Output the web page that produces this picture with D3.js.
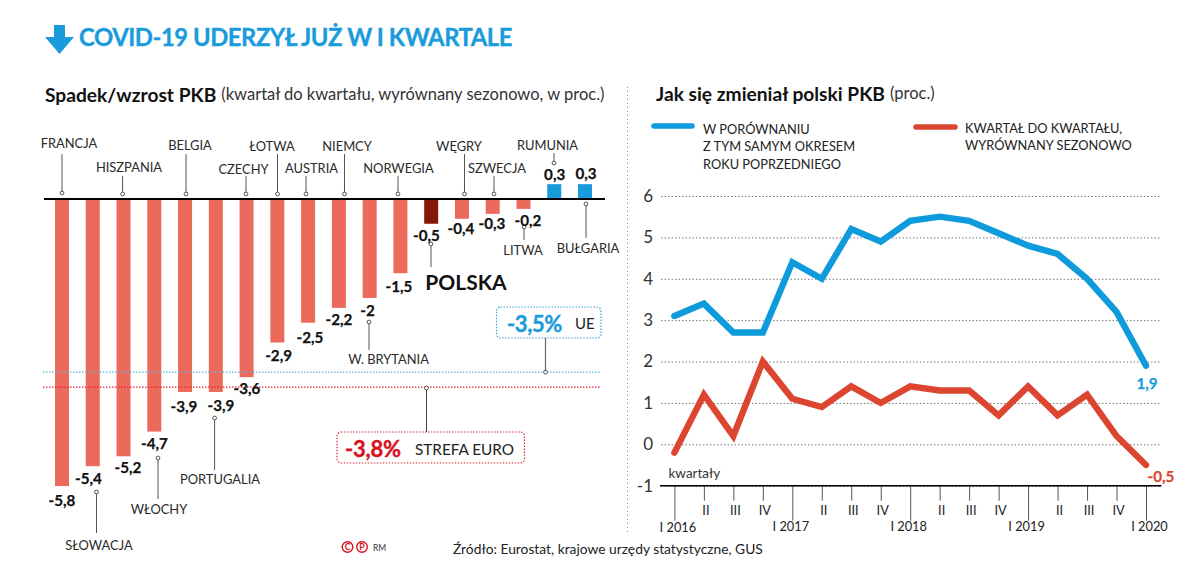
<!DOCTYPE html>
<html lang="pl"><head><meta charset="utf-8">
<script src="https://cdn.jsdelivr.net/npm/d3@7"></script>
<style>
html,body{margin:0;padding:0;background:#fff;overflow:hidden}
text{font-family:Lato,"Open Sans",sans-serif;fill:#222}
</style></head><body><svg id="c" width="1200" height="577"></svg>
<script>
// ---- data
const countries=["FRANCJA","SŁOWACJA","HISZPANIA","WŁOCHY","BELGIA","PORTUGALIA","CZECHY","ŁOTWA","AUSTRIA","NIEMCY","W. BRYTANIA","NORWEGIA","POLSKA","WĘGRY","SZWECJA","LITWA","RUMUNIA","BUŁGARIA"];
const gdpChange=[-5.8,-5.4,-5.2,-4.7,-3.9,-3.9,-3.6,-2.9,-2.5,-2.2,-2,-1.5,-0.5,-0.4,-0.3,-0.2,0.3,0.3];
const euAverage=-3.5, euroAverage=-3.8;
const quarters=["I 2016","II","III","IV","I 2017","II ","III ","IV ","I 2018","II  ","III  ","IV  ","I 2019","II   ","III   ","IV   ","I 2020"];
const yoy=[3.1,3.4,2.7,2.7,4.4,4.0,5.2,4.9,5.4,5.5,5.4,5.1,4.8,4.6,4.0,3.2,1.9];
const qoq=[-0.2,1.2,0.2,2.0,1.1,0.9,1.4,1.0,1.4,1.3,1.3,0.7,1.4,0.7,1.2,0.2,-0.5];
const yTicks=[-1,0,1,2,3,4,5,6];
// ---- layout of annotations (text centre x, text y, leader x, leader y1 with dot, leader y2)
const labelLayout=[[69,143,62,193,154],[99,545,96.5,492,533],[129,167,122.6,194,176],[159,509,158,458,499],[190,145,186,194,154],[220,479,214.6,418,470],[243.5,169,246,194,176],[272,146,277.5,194,154],[311.5,168,306,194,176],[347,146,344.5,194,154],[388.6,359,369,322,350],[398.5,168,398,194,176],[466,281,431,244,267],[459,146,464.5,194,154],[497,168,494,194,176],[523,250,524,227,240],[547.5,145,554,163,153],[588,248,586,204,238]];
const valueLayout=[[62,500],[88.5,478],[128,467],[154.5,442.5],[184,406],[221,405],[247,388],[278.6,355],[310,337],[339,319],[367.6,310],[399,286],[426.5,234.5],[461,228],[492,223],[528,219.5],[554.7,173.5],[586,173]];

const fmt=v=>String(v).replace(".",",");
const BLUE="#1a9bdc",RED="#dc4630",BAR="#ec6a5c",DARK="#861608";
const svg=d3.select("#c");
const txt=(x,y,s,o={})=>svg.append("text").attr("x",x).attr("y",y).attr("dominant-baseline",o.base||"central")
  .attr("text-anchor",o.anchor||"start").attr("font-size",o.size||13).attr("font-weight",o.weight||400)
  .style("fill",o.fill||"#222").style("letter-spacing",o.ls||null)
  .style("stroke",o.bold?(o.fill||"#222"):null).style("stroke-width",o.bold||null).text(s);
const ln=(x1,y1,x2,y2,c,w,dash)=>svg.append("line").attr("x1",x1).attr("y1",y1).attr("x2",x2).attr("y2",y2).attr("stroke",c).attr("stroke-width",w).attr("stroke-dasharray",dash||null);

// header
svg.append("path").attr("d",d3.line()([[54,25],[65,25],[65,37],[74,37],[59.5,54],[45,37],[54,37]])+"Z").attr("fill",BLUE);
txt(79,37,"COVID-19 UDERZYŁ JUŻ W I KWARTALE",{size:23.8,weight:700,fill:BLUE,ls:"-0.45px",bold:0.35});
const h1=txt(45,94,"Spadek/wzrost PKB",{size:19.2,weight:700,fill:"#111"});
h1.append("tspan").attr("dx",5).attr("font-size",16.5).attr("font-weight",400).style("fill","#333").text("(kwartał do kwartału, wyrównany sezonowo, w proc.)");
const h2=txt(656,93,"Jak się zmieniał polski PKB",{size:19.2,weight:700,fill:"#111"});
h2.append("tspan").attr("dx",5).attr("font-size",16.5).attr("font-weight",400).style("fill","#333").text("(proc.)");
ln(627.5,87,627.5,532,"#888",1,"1 3");

// bars
const xB=d3.scalePoint().domain(countries).range([62,585]);
const yB=d3.scaleLinear().domain([0,-5.8]).range([199,486]);
svg.append("g").selectAll("rect").data(countries).join("rect")
  .attr("x",d=>xB(d)-7).attr("width",14)
  .attr("y",(d,i)=>Math.min(yB(0),yB(gdpChange[i])))
  .attr("height",(d,i)=>Math.abs(yB(gdpChange[i])-yB(0)))
  .attr("fill",(d,i)=>d==="POLSKA"?DARK:gdpChange[i]>0?BLUE:BAR);
ln(44,199,605,199,"#000",2.2);

// reference lines
ln(43,yB(euAverage),600,yB(euAverage),"#5fb3d9",1.2,"1.5 1.5");
ln(43,yB(euroAverage),600,yB(euroAverage),"#e5222e",1.2,"1.5 1.5");

// leaders + dots + country labels
const dot=(x,y)=>svg.append("circle").attr("cx",x).attr("cy",y).attr("r",1.9).attr("fill","#fff").attr("stroke","#444").attr("stroke-width",0.9);
countries.forEach((c,i)=>{
  const [tx,ty,lx,y1,y2]=labelLayout[i];
  ln(lx,y1,lx,y2,"#555",1);dot(lx,y1);
  if(c==="POLSKA") txt(tx,ty,c,{anchor:"middle",size:21,weight:700,fill:"#111"});
  else txt(tx,ty,c,{anchor:"middle",size:12.9,fill:"#2a2a2a"});
  const [vx,vy]=valueLayout[i];
  txt(vx,vy,fmt(gdpChange[i]),{anchor:"middle",size:15.2,weight:700,fill:"#111",bold:0.25});
});

// boxes
const box=(x,y,w,h,c)=>svg.append("rect").attr("x",x).attr("y",y).attr("width",w).attr("height",h).attr("rx",4).attr("fill","#fff").attr("stroke",c).attr("stroke-width",1.2).attr("stroke-dasharray","1.5 1.5");
ln(545.5,338,545.5,yB(euAverage),"#666",1.2);dot(545.5,yB(euAverage));
box(496.5,307,104.5,31,"#3aa5d8");
txt(507,323,fmt(euAverage)+"%",{size:22,weight:700,fill:BLUE,ls:"-0.4px",bold:0.4});
txt(575,323,"UE",{size:15});
ln(426.5,yB(euroAverage),426.5,432,"#444",1);dot(426.5,yB(euroAverage)+1);
box(337,432,187.5,31,"#d6323c");
txt(345,448,fmt(euroAverage)+"%",{size:22,weight:700,fill:"#d8121f",ls:"-0.2px",bold:0.4});
txt(415,449,"STREFA EURO",{size:15.3});

// line chart
const xL=d3.scalePoint().domain(quarters).range([674.4,1146]);
const yL=d3.scaleLinear().domain([-1,6]).range([485.7,196]);
const gy=svg.append("g").attr("transform","translate(661,0)").call(d3.axisLeft(yL).tickValues(yTicks).tickSize(-500).tickFormat(d=>d).tickPadding(8));
gy.select(".domain").remove();
gy.selectAll(".tick line").attr("stroke","#777").attr("stroke-width",1).attr("stroke-dasharray","1.5 2");
gy.selectAll(".tick text").attr("font-size",17).style("fill","#333").style("font-family","Lato,sans-serif");
const gx=svg.append("g").attr("transform","translate(0,485.7)").call(d3.axisBottom(xL).tickSize(15).tickSizeOuter(0));
gx.select(".domain").remove();
gx.selectAll(".tick line").attr("stroke","#555").attr("stroke-width",1).attr("y2",d=>d.startsWith("I 20")?35:15);
gx.selectAll(".tick text").text(d=>d).attr("font-size",12.8).style("fill","#222").style("font-family","Lato,sans-serif")
  .attr("dx",d=>d.startsWith("I 20")?(d==="I 2016"?3:d==="I 2020"?3:-2):1.5)
  .attr("y",d=>d.startsWith("I 20")?(d==="I 2016"?37:36):20);
ln(660,485.7,1161.5,485.7,"#000",1.6);
const line=d3.line().x((d,i)=>xL(quarters[i])).y(d=>yL(d)).curve(d3.curveLinear);
[[yoy,"#0e9bdb"],[qoq,RED]].forEach(([s,c])=>svg.append("path").attr("d",line(s)).attr("fill","none").attr("stroke",c).attr("stroke-width",6.4).attr("stroke-linejoin","miter").attr("stroke-linecap","round"));
txt(1147,383,fmt(yoy[16]),{anchor:"middle",size:15.2,weight:700,fill:BLUE,bold:0.25});
txt(1161,476,fmt(qoq[16]),{anchor:"middle",size:15.2,weight:700,fill:RED,bold:0.25});
txt(668.5,473,"kwartały",{size:13.5,fill:"#333"});

// legend
ln(654,126,692,126,"#0e9bdb",5.5).attr("stroke-linecap","round");
ln(916,127,955,127,RED,5.5).attr("stroke-linecap","round");
["W PORÓWNANIU","Z TYM SAMYM OKRESEM","ROKU POPRZEDNIEGO"].forEach((t,i)=>txt(703,129+i*17.3,t,{size:12.8}));
["KWARTAŁ DO KWARTAŁU,","WYRÓWNANY SEZONOWO"].forEach((t,i)=>txt(965,128+i*17.3,t,{size:12.8}));

// footer
[[347.5,"C"],[362,"P"]].forEach(([x,l])=>{
  svg.append("circle").attr("cx",x).attr("cy",547).attr("r",5.3).attr("fill","none").attr("stroke","#d8121f").attr("stroke-width",1.4);
  txt(x,547.3,l,{anchor:"middle",size:8.5,weight:700,fill:"#d8121f"});
});
txt(373,547.5,"RM",{size:8.5,fill:"#333"});
txt(453,548,"Źródło: Eurostat, krajowe urzędy statystyczne, GUS",{size:13.8,fill:"#222"});
</script></body></html>
